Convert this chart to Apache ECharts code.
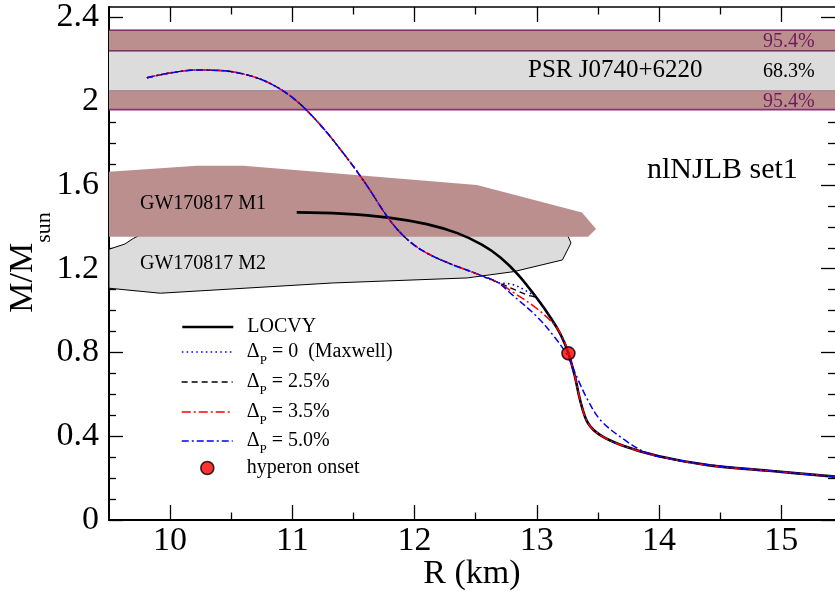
<!DOCTYPE html>
<html>
<head>
<meta charset="utf-8">
<script src="https://cdn.jsdelivr.net/npm/echarts@6.0.0/dist/echarts.min.js"></script>
<style>
html,body{margin:0;padding:0;background:#fff;}
#chart{width:835px;height:593px;}
</style>
</head>
<body>
<div id="chart"></div>
<script>
// ---------------- data ----------------
const xMajorTicks = [10, 11, 12, 13, 14, 15];
const xMinorTicks = [10.5, 11.5, 12.5, 13.5, 14.5];
const yMajorTicks = [0, 0.4, 0.8, 1.2, 1.6, 2.0, 2.4];
const yMinorTicks = [0.1, 0.2, 0.3, 0.5, 0.6, 0.7, 0.9, 1.0, 1.1, 1.3, 1.4, 1.5, 1.7, 1.8, 1.9, 2.1, 2.2, 2.3];

// PSR J0740+6220 mass bands [low, high]
const psr68 = [2.05, 2.24];
const psr95 = [1.96, 2.34];

// GW170817 regions, [R, M]
const gwM1 = [[9.5, 1.663], [10.22, 1.692], [10.6, 1.692], [12.51, 1.600], [13.37, 1.468], [13.485, 1.390], [13.42, 1.353], [9.5, 1.353]];
const gwM2 = [[9.5, 1.293], [9.63, 1.318], [9.70, 1.345], [9.76, 1.362], [13.25, 1.362], [13.28, 1.323], [13.21, 1.242], [12.81, 1.186], [12.43, 1.156], [11.33, 1.132], [9.92, 1.083], [9.5, 1.107]];

// hybrid (quark) branch shared by all transition curves
const hybridBranch = [[9.81, 2.112], [10.0, 2.135], [10.22, 2.149], [10.4, 2.147], [10.6, 2.130], [10.8, 2.090], [11.0, 2.018], [11.2, 1.906], [11.4, 1.765], [11.6, 1.606], [11.8, 1.430], [11.95, 1.335], [12.1, 1.275], [12.3, 1.222], [12.5, 1.178], [12.68, 1.135]];
// LOCVY hadronic branch above the hyperon onset
const locvyUpper = [[11.036, 1.469], [11.4, 1.463], [11.8, 1.443], [12.1, 1.413], [12.35, 1.370], [12.55, 1.315], [12.7, 1.255], [12.85, 1.170], [13.0, 1.060], [13.12, 0.960], [13.2, 0.880], [13.259, 0.796]];
// common low-mass branch below the hyperon onset
const lowBranch = [[13.259, 0.796], [13.31, 0.690], [13.36, 0.560], [13.42, 0.462], [13.52, 0.405], [13.7, 0.356], [14.0, 0.304], [14.4, 0.262], [14.9, 0.235], [15.5, 0.204]];
// transition segments
const joinDp0 = [[12.8, 1.125], [12.92, 1.092], [13.0, 1.060]];
const joinDp25 = [[12.8, 1.105], [12.92, 1.075], [13.0, 1.058]];
const joinDp35 = [[12.8, 1.090], [13.0, 1.010], [13.15, 0.928], [13.22, 0.862]];
const joinDp50 = [[12.8, 1.075], [13.0, 0.972], [13.15, 0.870], [13.25, 0.785], [13.33, 0.680], [13.42, 0.570], [13.52, 0.478], [13.7, 0.390], [13.9, 0.320], [14.1, 0.291], [14.4, 0.264]];
const hyperonOnset = [[13.259, 0.796]];

// -------------- build --------------
function chain() {
  const out = [];
  let last = -Infinity;
  for (const part of arguments) {
    for (const p of part) {
      if (p[0] > last + 1e-9) { out.push(p); last = p[0]; }
    }
  }
  return out;
}
const dataLOCVY = chain(locvyUpper, lowBranch);
const dataDp0 = chain(hybridBranch, joinDp0, locvyUpper, lowBranch);
const dataDp25 = chain(hybridBranch, joinDp25, locvyUpper, lowBranch);
const dataDp35 = chain(hybridBranch, joinDp35, lowBranch);
const dataDp50 = chain(hybridBranch, joinDp50, lowBranch);

const FONT = '"Liberation Serif", "Times New Roman", serif';
const ROSY = '#bc8f8f';
const GREY = '#dcdcdc';
const PURPLE = '#6a1456';
const HIDE = {color: 'rgba(0,0,0,0)', borderColor: 'rgba(0,0,0,0)', borderWidth: 0, opacity: 0};

const chart = echarts.init(document.getElementById('chart'), null, {renderer: 'canvas'});

function xAxisCfg(pos, ticks, len, labels, lineShow) {
  return {
    type: 'value', position: pos, min: 9.5, max: 15.44, gridIndex: 0,
    axisLine: {show: lineShow, onZero: false, lineStyle: {color: '#000', width: pos === 'bottom' ? 2 : 1.5}},
    axisTick: {show: true, inside: true, length: len, customValues: ticks, lineStyle: {color: '#000', width: 1.3}},
    axisLabel: labels ? {show: true, customValues: ticks, fontSize: 34, fontFamily: FONT, color: '#000', margin: 4} : {show: false},
    splitLine: {show: false},
    name: labels ? 'R (km)' : '',
    nameLocation: 'middle', nameGap: 37, nameMoveOverlap: false,
    nameTextStyle: {fontSize: 34, fontFamily: FONT, color: '#000'}
  };
}
function yAxisCfg(pos, ticks, len, labels, lineShow) {
  return {
    type: 'value', position: pos, min: 0, max: 2.45, gridIndex: 0,
    axisLine: {show: lineShow, onZero: false, lineStyle: {color: '#000', width: 2}},
    axisTick: {show: true, inside: true, length: len, customValues: ticks, lineStyle: {color: '#000', width: 1.3}},
    axisLabel: labels ? {show: true, customValues: ticks, fontSize: 34, fontFamily: FONT, color: '#000', margin: 10,
      formatter: v => (Math.abs(v - Math.round(v)) < 1e-9 ? String(Math.round(v)) : v.toFixed(1))} : {show: false},
    splitLine: {show: false}
  };
}

const legendRich = {
  d: {fontSize: 20, fontFamily: FONT, color: '#000', lineHeight: 30},
  s: {fontSize: 13, fontFamily: FONT, color: '#000', lineHeight: 10, verticalAlign: 'bottom'}
};
const legendLabels = {
  'LOCVY': '{d|LOCVY}',
  'dp0': '{d|\u0394}{s|P}{d| = 0  (Maxwell)}',
  'dp25': '{d|\u0394}{s|P}{d| = 2.5%}',
  'dp35': '{d|\u0394}{s|P}{d| = 3.5%}',
  'dp50': '{d|\u0394}{s|P}{d| = 5.0%}',
  'hyperon onset': '{d|hyperon onset}'
};
function legendRow(item, centerY, w, h, left, pad) {
  return {
    show: true, orient: 'vertical', left: left, top: centerY - 15, padding: 0,
    itemWidth: w, itemHeight: h, selectedMode: false,
    data: [item],
    formatter: n => legendLabels[n],
    textStyle: {padding: [0, 0, 0, pad], rich: legendRich}
  };
}

const lineStyles = {
  LOCVY: {color: '#000', width: 2.6, type: 'solid'},
  dp0: {color: '#0000ff', width: 1.6, type: [1.6, 3.2]},
  dp25: {color: '#000', width: 1.3, type: [6, 4]},
  dp35: {color: '#ff0000', width: 1.5, type: [9, 3, 2, 3]},
  dp50: {color: '#0000ff', width: 1.5, type: [7, 3, 2, 3, 7, 3]}
};

function curve(name, data, z) {
  return {
    type: 'line', name: name, data: data, symbol: 'none', smooth: 0.35, z: z,
    lineStyle: lineStyles[name], itemStyle: {color: lineStyles[name].color}
  };
}

const series = [
  {
    type: 'custom', name: 'psr', silent: true, z: 1,
    data: [[9.5, 0]],
    renderItem: (params, api) => {
      const cs = params.coordSys;
      const x0 = cs.x, w = cs.width;
      const y = v => api.coord([9.5, v])[1];
      const rect = (lo, hi, fill) => ({type: 'rect', shape: {x: x0, y: y(hi), width: w, height: y(lo) - y(hi)}, style: {fill: fill}});
      const line = (v, col, lw) => ({type: 'line', shape: {x1: x0, y1: y(v), x2: x0 + w, y2: y(v)}, style: {stroke: col, lineWidth: lw}});
      return {type: 'group', children: [
        rect(psr95[0], psr95[1], ROSY),
        rect(psr68[0], psr68[1], GREY),
        line(psr95[1], PURPLE, 1.3),
        line(psr68[1], PURPLE, 1.3),
        line(psr68[0], '#9c7a92', 1),
        line(psr95[0], '#86326f', 1.8)
      ]};
    }
  },
  {
    type: 'custom', name: 'M2', silent: true, z: 1, clip: true,
    data: [[9.5, 0]],
    renderItem: (params, api) => ({
      type: 'polygon', shape: {points: gwM2.map(p => api.coord(p))},
      style: {fill: GREY, stroke: '#000', lineWidth: 1}
    })
  },
  {
    type: 'custom', name: 'M1', silent: true, z: 1, clip: true,
    data: [[9.5, 0]],
    renderItem: (params, api) => ({
      type: 'polygon', shape: {points: gwM1.map(p => api.coord(p))},
      style: {fill: ROSY, stroke: 'none'}
    })
  },
  curve('LOCVY', dataLOCVY, 3),
  curve('dp0', dataDp0, 4),
  curve('dp25', dataDp25, 4),
  curve('dp35', dataDp35, 4),
  curve('dp50', dataDp50, 4),
  {
    type: 'scatter', name: 'hyperon onset', data: hyperonOnset, symbol: 'circle', symbolSize: 13, z: 6,
    itemStyle: {color: '#ff0000', borderColor: '#000', borderWidth: 1.6}
  }
];

const txt = (text, x, y, size, color) => ({
  type: 'text', z: 100,
  x: x, y: y,
  style: {text: text, font: size + 'px ' + FONT, fill: color || '#000', align: 'left', verticalAlign: 'middle'}
});

const option = {
  animation: false,
  backgroundColor: '#fff',
  grid: {left: 109, right: 0, top: 7, bottom: 73, containLabel: false, outerBoundsMode: 'none'},
  xAxis: [
    xAxisCfg('bottom', xMajorTicks, 15, true, true),
    xAxisCfg('bottom', xMinorTicks, 7.5, false, false),
    xAxisCfg('top', xMajorTicks, 15, false, true),
    xAxisCfg('top', xMinorTicks, 7.5, false, false)
  ],
  yAxis: [
    yAxisCfg('left', yMajorTicks, 14, true, true),
    yAxisCfg('left', yMinorTicks, 7, false, false),
    yAxisCfg('right', yMajorTicks, 14, false, false),
    yAxisCfg('right', yMinorTicks, 7, false, false)
  ],
  legend: [
    legendRow({name: 'LOCVY', lineStyle: lineStyles.LOCVY, itemStyle: HIDE}, 332, 51, 12, 181, 9),
    legendRow({name: 'dp0', lineStyle: lineStyles.dp0, itemStyle: HIDE}, 357, 51, 12, 181, 9),
    legendRow({name: 'dp25', lineStyle: lineStyles.dp25, itemStyle: HIDE}, 387, 51, 12, 181, 9),
    legendRow({name: 'dp35', lineStyle: lineStyles.dp35, itemStyle: HIDE}, 417, 51, 12, 181, 9),
    legendRow({name: 'dp50', lineStyle: lineStyles.dp50, itemStyle: HIDE}, 446, 51, 12, 181, 9),
    legendRow({name: 'hyperon onset', icon: 'circle', itemStyle: {color: '#ff0000', borderColor: '#000', borderWidth: 1.6}}, 473, 13, 13, 200, 28)
  ],
  graphic: [
    {
      type: 'text', z: 100, x: 23, y: 262.5, rotation: Math.PI / 2,
      style: {
        text: '{a|M/M}{b|sun}', align: 'center', verticalAlign: 'middle',
        rich: {
          a: {fontSize: 34, fontFamily: FONT, fill: '#000', lineHeight: 64},
          b: {fontSize: 22, fontFamily: FONT, fill: '#000', lineHeight: 12, verticalAlign: 'bottom'}
        }
      }
    },
    txt('PSR J0740+6220', 528, 70.5, 25),
    txt('68.3%', 763, 71.5, 20),
    txt('95.4%', 763, 41.7, 20, '#6e1a5c'),
    txt('95.4%', 763, 101.7, 20, '#6e1a5c'),
    txt('nlNJLB set1', 647, 170.5, 30),
    txt('GW170817 M1', 140, 203.3, 20),
    txt('GW170817 M2', 140, 263.3, 20)
  ],
  series: series
};
chart.setOption(option);
</script>
</body>
</html>
